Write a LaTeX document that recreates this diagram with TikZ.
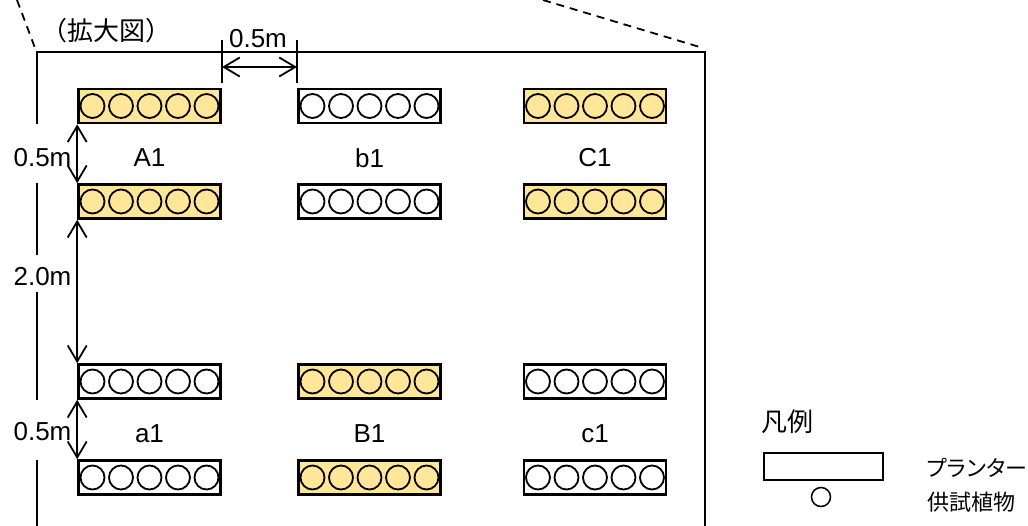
\documentclass[tikz,border=0pt]{standalone}
\usepackage{fontspec}
\setmainfont{Liberation Sans}
\newfontfamily\jp{Noto Sans CJK JP}
\newfontfamily\jpp[RawFeature=+palt]{Noto Sans CJK JP}
\usetikzlibrary{arrows.meta}
\definecolor{plantfill}{HTML}{FFE699}
\begin{document}
\begin{tikzpicture}[x=1pt,y=-1pt,
  font=\fontsize{26}{30}\selectfont,
  planter/.style={draw, line width=2.6pt, minimum width=142pt, minimum height=34pt, inner sep=0pt, fill=white},
  yel/.style={planter, fill=plantfill},
  plant/.style={circle, draw, line width=1.8pt, minimum size=24pt, inner sep=0pt},
  frame/.style={line width=2.8pt},
  dim/.style={line width=1.8pt, {Straight Barb[length=16pt,width=19pt]}-{Straight Barb[length=16pt,width=19pt]}},
  tickline/.style={line width=1.8pt},
  lab/.style={inner sep=0pt},
  jtext/.style={font=\jp\fontsize{26}{30}\selectfont, inner sep=0pt},
  jptext/.style={font=\jpp\fontsize{22}{26}\selectfont, inner sep=0pt},
  dashline/.style={line width=1.8pt, dash pattern=on 8pt off 6pt}]
\useasboundingbox (0,0) rectangle (1028,526);

% planters
\foreach \name/\x/\y/\st in {A1t/149.5/106/yel, A1b/149.5/201.5/yel,
  b1t/369.5/106/planter, b1b/369.5/201.5/planter,
  C1t/595/106/yel, C1b/595/201.5/yel,
  a1t/149.5/381.5/planter, a1b/149.5/477.5/planter,
  B1t/369.5/381.5/yel, B1b/369.5/477.5/yel,
  c1t/595/381.5/planter, c1b/595/477.5/planter}{
  \node[\st] (\name) at (\x,\y) {};
  \foreach \i/\dx in {1/-57,2/-28.5,3/0,4/28.5,5/57}
    \node[plant] (\name-\i) at ([xshift=\dx pt]\name.center) {};
}

% group labels
\node[lab] (lA1) at (149.5,158) {A1};
\node[lab] (lb1) at (369.5,158) {b1};
\node[lab] (lC1) at (595,158) {C1};
\node[lab] (la1) at (149.5,434) {a1};
\node[lab] (lB1) at (369.5,434) {B1};
\node[lab] (lc1) at (595,434) {c1};

% frame
\draw[frame] (37,124) -- (37,52) -- (705,52) -- (705,526);
\draw[frame] (37,183) -- (37,255);
\draw[frame] (37,292) -- (37,400);
\draw[frame] (37,460) -- (37,526);

% dashed zoom lines
\draw[dashline] (17,0) -- (35,48);
\draw[dashline] (543,0) -- (703,48);

\node[font=\jp\fontsize{26}{30}\selectfont, inner sep=0pt] (title) at (106,31) {（拡大図）};

% horizontal dimension
\draw[tickline] (222,40) -- (222,83);
\draw[tickline] (297,40) -- (297,83);
\coordinate (hl) at (222,67);
\coordinate (hr) at (297,67);
\draw[dim] (hl) -- (hr);
\node[lab] (dtop) at (258,38.5) {0.5m};

% vertical dimensions
\draw[dim] (A1t.south west) -- (A1b.north west);
\draw[dim] (A1b.south west) -- (a1t.north west);
\draw[dim] (a1t.south west) -- (a1b.north west);
\node[lab] (d1) at (42.5,158) {0.5m};
\node[lab] (d2) at (42.5,277) {2.0m};
\node[lab] (d3) at (42.5,432) {0.5m};

% legend
\node[jtext] (lg) at (787,422) {凡例};
\node[draw, line width=2pt, minimum width=119pt, minimum height=27pt, inner sep=0pt] (lgbox) at (823.5,466.5) {};
\node[circle, draw, line width=1.5pt, minimum size=19pt, inner sep=0pt] (lgc) at (821,497) {};
\node[jptext, anchor=west] (lgt1) at (927,468) {プランター};
\node[jptext, anchor=west] (lgt2) at (927,502) {供試植物};
\end{tikzpicture}
\end{document}
